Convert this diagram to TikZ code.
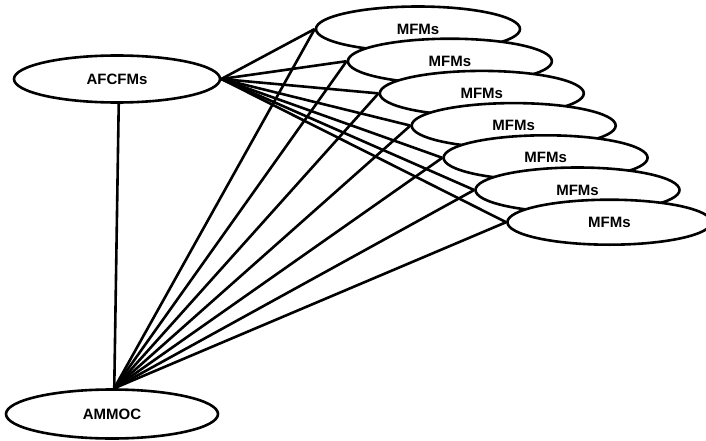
\documentclass[tikz,border=0pt]{standalone}
\usepackage{fontspec}
\setmainfont{Liberation Sans}
\usetikzlibrary{shapes.geometric,backgrounds}
\begin{document}
\begin{tikzpicture}[x=1pt,y=-1pt,
  oval/.style={ellipse, draw, fill=white, line width=2.6pt, inner sep=0pt,
    font=\bfseries\fontsize{15}{15}\selectfont},
  mfm/.style={oval, minimum width=204pt, minimum height=45pt},
  link/.style={line width=2.6pt}]
\useasboundingbox (0,0) rectangle (706,441);

% command centres
\node[oval, minimum width=206pt, minimum height=47pt] (afcfms) at (117,79) {AFCFMs};
\node[oval, minimum width=212pt, minimum height=49pt] (ammoc) at (112,414) {AMMOC};

% the stack of MFMs, each later one lying over the previous
\foreach \i in {0,...,6}
  \node[mfm] (m\i) at ({418+31.9*\i},{29+32.2*\i}) {MFMs};

% connectors, kept behind the ovals
\begin{scope}[on background layer]
  \draw[link] (afcfms.-86) -- (ammoc.85);
  \foreach \i in {0,...,6} {
    \draw[link] (afcfms.east) -- (m\i.west);
    \draw[link] (ammoc.85) -- (m\i.west);
  }
\end{scope}
\end{tikzpicture}
\end{document}
